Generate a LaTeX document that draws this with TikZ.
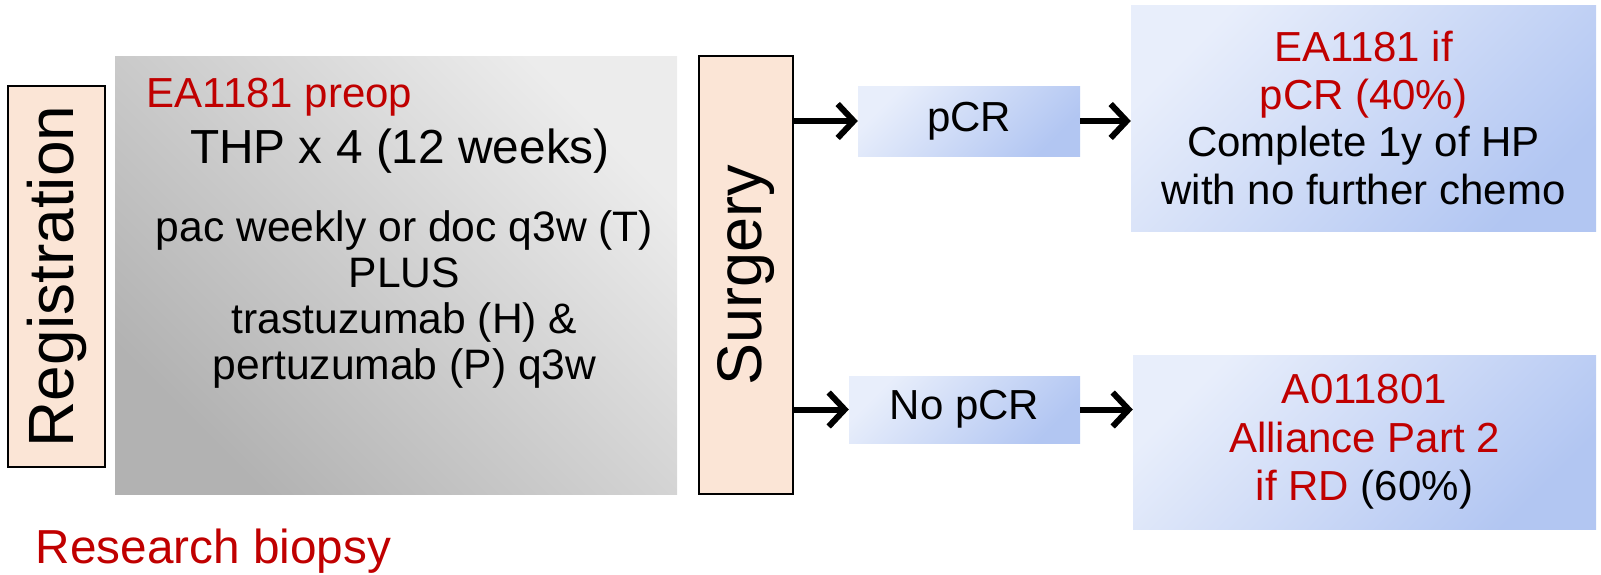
\documentclass[tikz,border=0pt]{standalone}
\usepackage{fontspec}
\setmainfont{Liberation Sans}
\usetikzlibrary{arrows.meta}
\definecolor{myred}{RGB}{192,0,0}
\definecolor{peachc}{RGB}{251,229,214}
\definecolor{graylt}{RGB}{236,236,236}
\definecolor{graydk}{RGB}{178,178,178}
\definecolor{bluelt}{RGB}{232,238,251}
\definecolor{bluedk}{RGB}{178,198,242}
\tikzset{
  peachbox/.style={draw=black, line width=1.8pt, fill=peachc, inner sep=0pt},
  graybox/.style={top color=graylt, bottom color=graydk, shading angle=-45, inner sep=0pt},
  bluebox/.style={top color=bluelt, bottom color=bluedk, shading angle=45, inner sep=0pt, align=center},
  arrowline/.style={draw=black, line width=6pt, -{Straight Barb[length=16pt,width=34pt]}},
  txt/.style={inner sep=0pt, align=center}
}
\begin{document}
\begin{tikzpicture}[x=1pt,y=-1pt]
\useasboundingbox (0,0) rectangle (1601,574);
% boxes
\node[peachbox, minimum width=97pt, minimum height=381pt] (reg) at (56.5,276.5) {};
\node[graybox, minimum width=562pt, minimum height=438pt] (gray) at (396,275) {};
\node[peachbox, minimum width=94pt, minimum height=438pt] (surg) at (746,275) {};
\node[bluebox, minimum width=222pt, minimum height=70pt, font=\fontsize{42}{46}\selectfont] (pcr) at (969,121) {pCR};
\node[bluebox, minimum width=231pt, minimum height=67pt, font=\fontsize{42}{46}\selectfont] (nopcr) at (964.5,409.5) {No pCR};
\node[bluebox, minimum width=465pt, minimum height=226pt, font=\fontsize{42}{47.7}\selectfont] (tr) at (1363.5,118)
  {\textcolor{myred}{EA1181 if}\\\textcolor{myred}{pCR (40\%)}\\Complete 1y of HP\\with no further chemo};
\node[bluebox, minimum width=463pt, minimum height=174pt, font=\fontsize{42}{48.5}\selectfont] (br) at (1364.5,442)
  {\textcolor{myred}{A011801}\\\textcolor{myred}{Alliance Part 2}\\\textcolor{myred}{if RD} (60\%)};
% rotated labels
\node[txt, rotate=90, font=\fontsize{64}{70}\selectfont] (regt) at (reg.center) {Registration};
\node[txt, rotate=90, font=\fontsize{63}{70}\selectfont] (surgt) at (surg.center) {Surgery};
% gray box texts
\node[txt, text=myred, font=\fontsize{42}{46}\selectfont] (ea) at (279.5,97) {EA1181 preop};
\node[txt, font=\fontsize{47.8}{52}\selectfont] (thp) at (400,151) {THP x 4 (12 weeks)};
\node[txt, font=\fontsize{42.6}{45.7}\selectfont] (drugs) at (404.5,299.5)
  {pac weekly or doc q3w (T)\\PLUS\\trastuzumab (H) \&\\pertuzumab (P) q3w};
% research biopsy
\node[txt, text=myred, font=\fontsize{47.7}{52}\selectfont] (rb) at (213.5,551) {Research biopsy};
% connectors
\draw[arrowline] (pcr.west -| surg.east) -- (pcr.west);
\draw[arrowline] (nopcr.west -| surg.east) -- (nopcr.west);
\draw[arrowline] (pcr.east) -- (pcr.east -| tr.west);
\draw[arrowline] (nopcr.east) -- (nopcr.east -| br.west);
\end{tikzpicture}
\end{document}
